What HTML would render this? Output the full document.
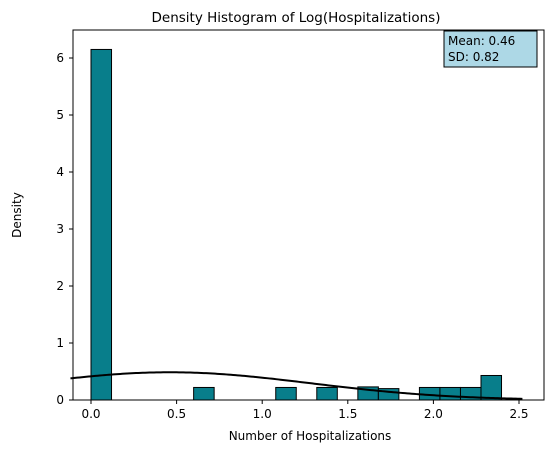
<!DOCTYPE html>
<html><head><meta charset="utf-8"><style>
body{margin:0;background:#fff;}
svg text{font-family:"DejaVu Sans","Liberation Sans",sans-serif;fill:#000;}
</style></head><body>
<svg id="chart" width="554" height="453" xmlns="http://www.w3.org/2000/svg">
<text x="296" y="22" font-size="13.5" text-anchor="middle">Density Histogram of Log(Hospitalizations)</text>
<g id="bars"></g>
<path id="curve" fill="none" stroke="#000" stroke-width="2"/>
<rect x="73" y="30" width="471" height="370" fill="none" stroke="#000" stroke-width="1"/>
<g id="xticks"></g>
<g id="yticks"></g>
<text x="310" y="440" font-size="12" text-anchor="middle">Number of Hospitalizations</text>
<text transform="translate(21,215) rotate(-90)" font-size="12" text-anchor="middle">Density</text>
<g>
<rect x="444" y="31" width="93" height="36" fill="#add8e6" stroke="#000" stroke-width="1"/>
<text x="448" y="45" font-size="12">Mean: 0.46</text>
<text x="448" y="61" font-size="12">SD: 0.82</text>
</g>
</svg>
<script>
const binEdgesMax = 2.3979;
const binDensities = [6.15,0,0,0,0,0.22,0,0,0,0.22,0,0.22,0,0.23,0.2,0,0.22,0.22,0.22,0.43];
const xTicks = [0.0,0.5,1.0,1.5,2.0,2.5];
const yTicks = [0,1,2,3,4,5,6];
const meanVal = 0.46, sdVal = 0.82;
const NS='http://www.w3.org/2000/svg';
function X(v){return 91+v*171.2;}
function Y(v){return 400-v*57;}
const bw = binEdgesMax/binDensities.length;
const bars=document.getElementById('bars');
binDensities.forEach((d,i)=>{
  if(d<=0) return;
  const r=document.createElementNS(NS,'rect');
  r.setAttribute('x',X(i*bw));r.setAttribute('width',X((i+1)*bw)-X(i*bw));
  r.setAttribute('y',Y(d));r.setAttribute('height',Y(0)-Y(d));
  r.setAttribute('fill','#087e8b');r.setAttribute('stroke','#000');r.setAttribute('stroke-width','1');
  
  
  bars.appendChild(r);
});
let p='';
for(let k=0;k<=200;k++){const v=-0.12+k*(2.64/200);const d=Math.exp(-0.5*((v-meanVal)/sdVal)**2)/(sdVal*Math.sqrt(2*Math.PI));p+=(k?'L':'M')+X(v).toFixed(2)+','+Y(d).toFixed(2);}
document.getElementById('curve').setAttribute('d',p);
const xg=document.getElementById('xticks');
xTicks.forEach(t=>{
  const l=document.createElementNS(NS,'line');l.setAttribute('x1',X(t));l.setAttribute('x2',X(t));l.setAttribute('y1',400);l.setAttribute('y2',404);l.setAttribute('stroke','#000');
  
  
  xg.appendChild(l);
  const tx=document.createElementNS(NS,'text');tx.setAttribute('x',X(t));tx.setAttribute('y',418);tx.setAttribute('font-size','12');tx.setAttribute('text-anchor','middle');tx.textContent=t.toFixed(1);
  
  
  xg.appendChild(tx);
});
const yg=document.getElementById('yticks');
yTicks.forEach(t=>{
  const l=document.createElementNS(NS,'line');l.setAttribute('x1',69);l.setAttribute('x2',73);l.setAttribute('y1',Y(t));l.setAttribute('y2',Y(t));l.setAttribute('stroke','#000');
  
  
  yg.appendChild(l);
  const tx=document.createElementNS(NS,'text');tx.setAttribute('x',64);tx.setAttribute('y',Y(t)+4);tx.setAttribute('font-size','12');tx.setAttribute('text-anchor','end');tx.textContent=t;
  
  
  yg.appendChild(tx);
});
</script>
</body></html>
